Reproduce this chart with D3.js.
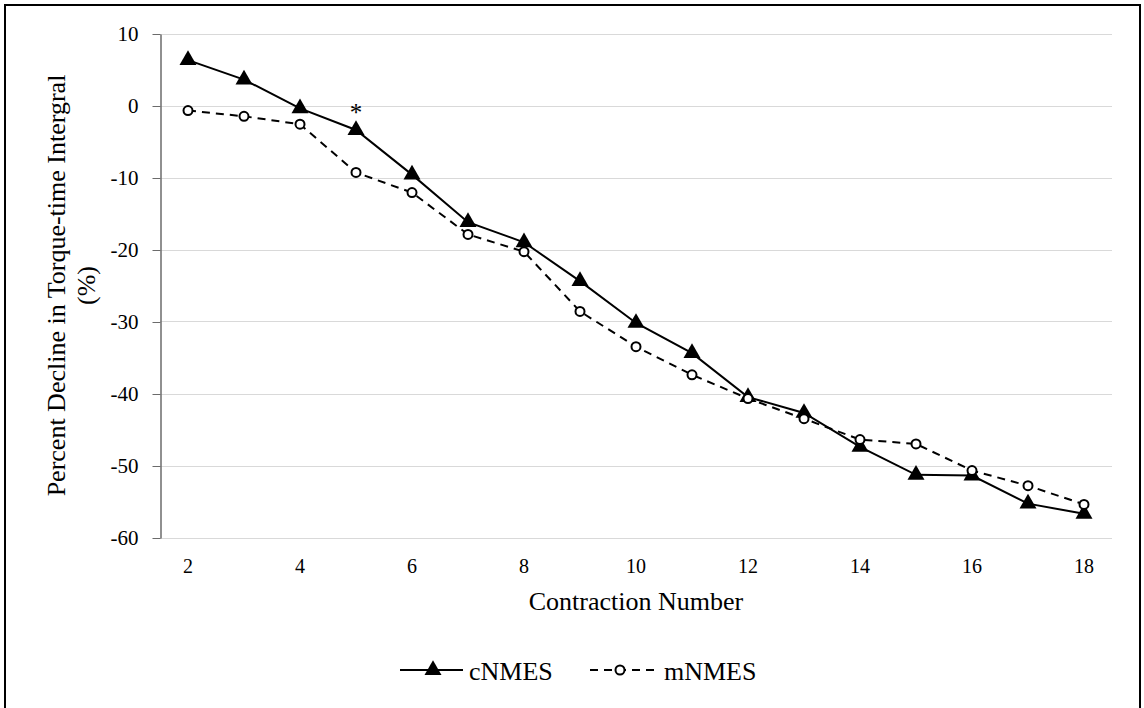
<!doctype html>
<html>
  <head>
    <meta charset="utf-8">
    <script src="https://cdn.jsdelivr.net/npm/d3@7/dist/d3.min.js"></script>
    <style>
      body { margin: 0; background: #fff; }
      svg { display: block; font-family: "Liberation Serif", "Times New Roman", serif; }
    </style>
  </head>
  <body>
    <svg id="chart" width="1144" height="708"></svg>
    <script>
      const contractions = [2, 3, 4, 5, 6, 7, 8, 9, 10, 11, 12, 13, 14, 15, 16, 17, 18];
      const cNMES = [6.3, 3.6, -0.4, -3.4, -9.6, -16.2, -19.0, -24.4, -30.2, -34.4, -40.5, -42.7, -47.4, -51.3, -51.4, -55.3, -56.7];
      const mNMES = [-0.7, -1.5, -2.6, -9.3, -12.1, -17.9, -20.3, -28.6, -33.5, -37.4, -40.7, -43.5, -46.4, -47.0, -50.7, -52.8, -55.4];
      const yTicks = [10, 0, -10, -20, -30, -40, -50, -60];
      const xTickLabels = [2, 4, 6, 8, 10, 12, 14, 16, 18];
      const significant = [5];

      const svg = d3.select("#chart");
      const plotL = 160, plotR = 1112, plotT = 33.5, plotB = 537.5;

      // outer frame
      svg.append("rect")
        .attr("x", 5).attr("y", 5)
        .attr("width", 1135).attr("height", 720)
        .attr("fill", "none")
        .attr("stroke", "#000")
        .attr("stroke-width", 2);

      const x = d3.scaleBand().domain(contractions).range([plotL, plotR]);
      const y = d3.scaleLinear().domain([-60, 10]).range([plotB, plotT]);
      const cx = d => x(d) + x.bandwidth() / 2;

      // gridlines
      svg.append("g").selectAll("line")
        .data(yTicks)
        .enter().append("line")
        .attr("x1", plotL).attr("x2", plotR)
        .attr("y1", d => Math.round(y(d)) + 0.5)
        .attr("y2", d => Math.round(y(d)) + 0.5)
        .attr("stroke", "#d9d9d9")
        .attr("stroke-width", 1);

      // y axis
      const yAxis = svg.append("g")
        .attr("transform", "translate(" + (plotL + 0.5) + ",0.5)")
        .call(d3.axisLeft(y).tickValues(yTicks).tickFormat(d => String(d))
          .tickSize(8).tickPadding(14).tickSizeOuter(0));
      yAxis.select(".domain").attr("stroke", "#6b6b6b").attr("stroke-width", 1.5);
      yAxis.selectAll(".tick line").attr("stroke", "#6b6b6b");
      yAxis.selectAll(".tick text")
        .attr("font-family", "Liberation Serif")
        .attr("font-size", 21)
        .attr("fill", "#000");

      // x labels (every other category)
      svg.append("g").selectAll("text")
        .data(xTickLabels)
        .enter().append("text")
        .attr("x", d => cx(d))
        .attr("y", 573)
        .attr("text-anchor", "middle")
        .attr("font-size", 20)
        .text(d => d);

      // axis titles
      svg.append("text")
        .attr("x", (plotL + plotR) / 2)
        .attr("y", 610)
        .attr("text-anchor", "middle")
        .attr("font-size", 26)
        .text("Contraction Number");

      const yTitle = svg.append("text")
        .attr("transform", "translate(65," + ((plotT + plotB) / 2) + ") rotate(-90)")
        .attr("text-anchor", "middle")
        .attr("font-size", 26);
      yTitle.append("tspan").attr("x", 0).attr("dy", 0).text("Percent Decline in Torque-time Intergral");
      yTitle.append("tspan").attr("x", 0).attr("dy", 30).text("(%)");

      const line = d3.line().x(d => cx(d[0])).y(d => y(d[1]));
      const cData = contractions.map((c, i) => [c, cNMES[i]]);
      const mData = contractions.map((c, i) => [c, mNMES[i]]);

      svg.append("path")
        .datum(mData)
        .attr("d", line)
        .attr("fill", "none")
        .attr("stroke", "#000")
        .attr("stroke-width", 2)
        .attr("stroke-dasharray", "8,6");

      svg.append("path")
        .datum(cData)
        .attr("d", line)
        .attr("fill", "none")
        .attr("stroke", "#000")
        .attr("stroke-width", 2);

      const tri = d3.symbol().type(d3.symbolTriangle).size(125);

      svg.append("g").selectAll("path")
        .data(cData)
        .enter().append("path")
        .attr("d", tri)
        .attr("transform", d => "translate(" + cx(d[0]) + "," + y(d[1]) + ")")
        .attr("fill", "#000");

      svg.append("g").selectAll("circle")
        .data(mData)
        .enter().append("circle")
        .attr("cx", d => cx(d[0]))
        .attr("cy", d => y(d[1]))
        .attr("r", 4.5)
        .attr("fill", "#fff")
        .attr("stroke", "#000")
        .attr("stroke-width", 2);

      // significance marker
      svg.append("g").selectAll("text")
        .data(significant)
        .enter().append("text")
        .attr("x", d => cx(d))
        .attr("y", 121)
        .attr("text-anchor", "middle")
        .attr("font-size", 25)
        .text("*");

      // legend
      const legend = svg.append("g").attr("transform", "translate(0,670)");
      legend.append("line")
        .attr("x1", 400).attr("x2", 463).attr("y1", 0).attr("y2", 0)
        .attr("stroke", "#000").attr("stroke-width", 2);
      legend.append("path")
        .attr("d", tri)
        .attr("transform", "translate(433,0)")
        .attr("fill", "#000");
      legend.append("text")
        .attr("x", 469).attr("y", 10)
        .attr("font-size", 26)
        .text("cNMES");

      legend.append("line")
        .attr("x1", 590).attr("x2", 654).attr("y1", 0).attr("y2", 0)
        .attr("stroke", "#000").attr("stroke-width", 2)
        .attr("stroke-dasharray", "8,6");
      legend.append("circle")
        .attr("cx", 620).attr("cy", 0).attr("r", 4.5)
        .attr("fill", "#fff").attr("stroke", "#000").attr("stroke-width", 2);
      legend.append("text")
        .attr("x", 664).attr("y", 10)
        .attr("font-size", 26)
        .text("mNMES");
    </script>
  </body>
</html>
